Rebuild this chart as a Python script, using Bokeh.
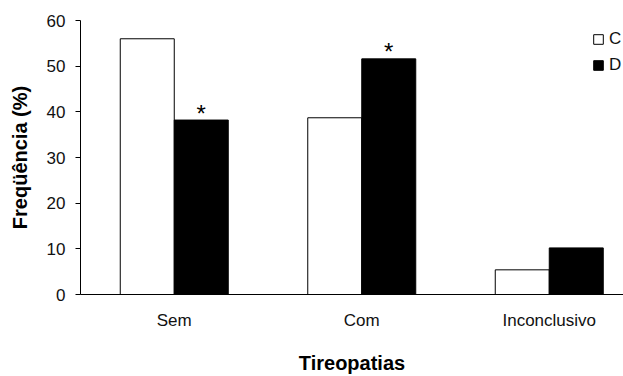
from bokeh.plotting import figure
from bokeh.models import Range1d, FixedTicker, ColumnDataSource, Legend, LegendItem
from bokeh.transform import dodge
from bokeh.core.properties import value
from bokeh.embed import file_html
from bokeh.resources import INLINE

categories = ["Sem", "Com", "Inconclusivo"]
freq_c = [56.0, 38.7, 5.4]
freq_d = [38.2, 51.6, 10.2]
signif_d = ["*", "*", ""]
y_ticks = [0, 10, 20, 30, 40, 50, 60]

FONT = "Liberation Sans"
pos = list(range(len(categories)))
src = ColumnDataSource(dict(x=pos, c=freq_c, d=freq_d, mark=signif_d))

p = figure(width=623, height=376, output_backend="svg", toolbar_location=None,
           x_range=Range1d(-0.5, 2.396), y_range=Range1d(0, 60),
           min_border_left=80, min_border_right=0, min_border_top=20,
           min_border_bottom=80)
p.outline_line_color = None
p.xgrid.visible = False
p.ygrid.visible = False

bw = 0.288
rc = p.vbar(x=dodge('x', -bw / 2), top='c', width=bw, source=src,
            fill_color="white", line_color="black", line_width=1)
rd = p.vbar(x=dodge('x', bw / 2), top='d', width=bw, source=src,
            fill_color="black", line_color="black", line_width=1)
p.text(x=dodge('x', bw / 2), y='d', text='mark', source=src,
       text_align="center", text_baseline="alphabetic", text_font_size="24px",
       text_font=value(FONT), text_color="black", y_offset=-7)

# axes
p.xaxis.ticker = FixedTicker(ticks=pos)
p.xaxis.major_label_overrides = {i: c for i, c in enumerate(categories)}
p.xaxis.major_tick_line_color = None
p.xaxis.minor_tick_line_color = None
p.xaxis.major_label_standoff = 10
p.xaxis.major_label_text_font_size = "17px"
p.xaxis.major_label_text_font = FONT
p.xaxis.major_label_text_color = "#111111"
p.xaxis.axis_line_color = "black"
p.xaxis.axis_label = "Tireopatias"
p.xaxis.axis_label_text_font = FONT
p.xaxis.axis_label_text_font_size = "20px"
p.xaxis.axis_label_text_font_style = "bold"
p.xaxis.axis_label_text_color = "black"
p.xaxis.axis_label_standoff = 19

p.yaxis.ticker = FixedTicker(ticks=y_ticks)
p.yaxis.major_tick_out = 5
p.yaxis.major_tick_in = 0
p.yaxis.major_tick_line_color = "black"
p.yaxis.minor_tick_line_color = None
p.yaxis.major_label_standoff = 10
p.yaxis.major_label_text_font_size = "17px"
p.yaxis.major_label_text_font = FONT
p.yaxis.major_label_text_color = "#111111"
p.yaxis.axis_line_color = "black"
p.yaxis.axis_label = "Freqüência (%)"
p.yaxis.axis_label_text_font = FONT
p.yaxis.axis_label_text_font_size = "20px"
p.yaxis.axis_label_text_font_style = "bold"
p.yaxis.axis_label_text_color = "black"
p.yaxis.axis_label_standoff = 13

legend = Legend(items=[LegendItem(label="C", renderers=[rc]),
                       LegendItem(label="D", renderers=[rd])],
                location=(512, 219), orientation="vertical",
                glyph_width=12, glyph_height=12, label_standoff=5,
                label_text_font=FONT, label_text_font_size="17px",
                label_text_color="#111111",
                label_height=20, spacing=6, padding=0, margin=0,
                border_line_color=None, background_fill_alpha=0)
p.add_layout(legend)

open("out.html", "w").write(file_html(p, INLINE))
